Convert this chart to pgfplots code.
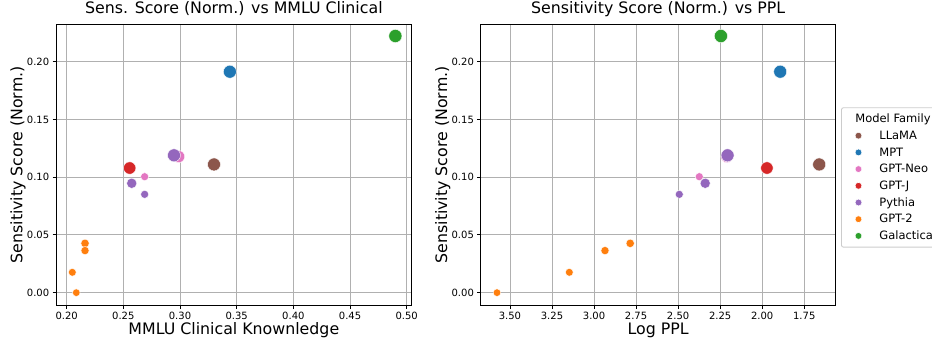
\documentclass[border=0pt]{standalone}
\usepackage{fontspec}
\setmainfont{DejaVu Sans}
\usepackage{pgfplots}
\pgfplotsset{compat=1.18}
\usepackage{pgfplotstable}

\definecolor{tabblue}{HTML}{1F77B4}
\definecolor{taborange}{HTML}{FF7F0E}
\definecolor{tabgreen}{HTML}{2CA02C}
\definecolor{tabred}{HTML}{D62728}
\definecolor{tabpurple}{HTML}{9467BD}
\definecolor{tabbrown}{HTML}{8C564B}
\definecolor{tabpink}{HTML}{E377C2}
\definecolor{gridc}{RGB}{176,176,176}
\definecolor{legc}{RGB}{204,204,204}

% columns: MMLU clinical, log PPL, normalized sensitivity, marker radius (px)
\pgfplotstableread{
mmlu ppl sens sz
0.3300 1.661 0.1110 6.5
}\llama
\pgfplotstableread{
mmlu ppl sens sz
0.3440 1.893 0.1913 6.5
}\mpt
\pgfplotstableread{
mmlu ppl sens sz
0.2988 2.210 0.1178 6.1
0.2688 2.374 0.1004 4.0
}\gptneo
\pgfplotstableread{
mmlu ppl sens sz
0.2556 1.972 0.1079 6.2
}\gptj
\pgfplotstableread{
mmlu ppl sens sz
0.2947 2.206 0.1189 6.5
0.2574 2.339 0.0947 5.1
0.2688 2.493 0.0851 4.0
}\pythia
\pgfplotstableread{
mmlu ppl sens sz
0.2162 2.785 0.0427 4.2
0.2162 2.935 0.0364 4.1
0.2050 3.147 0.0176 3.9
0.2085 3.577 0.0000 3.8
}\gpttwo
\pgfplotstableread{
mmlu ppl sens sz
0.4900 2.2455 0.2222 6.6
}\galactica

\pgfplotsset{
  fam/.style={scatter, only marks, mark=*, point meta=y,
    scatter/use mapped color={draw=white, fill=#1},
    visualization depends on={\thisrow{sz}\as\msz},
    scatter/@pre marker code/.append style={/tikz/mark size=\msz bp, /tikz/line width=0.6bp},
    forget plot},
  legmark/.style={only marks, mark=*, mark size=3.4bp, draw=white, line width=0.5bp, fill=#1},
  base/.style={
    scale only axis, height=281.7bp,
    ymin=-0.0113, ymax=0.2326,
    ytick={0,0.05,0.10,0.15,0.20},
    grid=major,
    major grid style={gridc, line width=0.8bp},
    axis line style={black, line width=0.8bp},
    tick align=outside, xtick pos=left, ytick pos=left,
    major tick length=3.3bp,
    every tick/.style={black, line width=0.8bp},
    tick label style={font=\fontsize{10bp}{12bp}\selectfont},
    /pgf/number format/assume math mode=true,
    xticklabel style={/pgf/number format/.cd, fixed, fixed zerofill, precision=2},
    yticklabel style={/pgf/number format/.cd, fixed, fixed zerofill, precision=2},
    title style={font=\fontsize{15.8bp}{18bp}\selectfont, at={(axis description cs:0.5,1.0178)}, anchor=base},
    xlabel style={font=\fontsize{15.8bp}{18bp}\selectfont, at={(axis description cs:0.5,-0.1005)}, anchor=base},
    ylabel style={font=\fontsize{15.8bp}{18bp}\selectfont, anchor=base},
  },
}

\begin{document}
\begin{tikzpicture}
\path[use as bounding box] (0,0) rectangle (932bp,339bp);

\begin{axis}[base, at={(56bp,33.3bp)}, anchor=south west, width=355.7bp,
  xmin=0.1906, xmax=0.5044,
  xtick={0.20,0.25,0.30,0.35,0.40,0.45,0.50},
  title={Sens. Score (Norm.) vs MMLU Clinical},
  xlabel={MMLU Clinical Knownledge},
  ylabel={Sensitivity Score (Norm.)},
  ylabel style={at={(axis description cs:-0.0942,0.5)}},
]
\addplot[fam=tabbrown] table[x=mmlu, y=sens] {\llama};
\addplot[fam=tabblue] table[x=mmlu, y=sens] {\mpt};
\addplot[fam=tabpink] table[x=mmlu, y=sens] {\gptneo};
\addplot[fam=tabred] table[x=mmlu, y=sens] {\gptj};
\addplot[fam=tabpurple] table[x=mmlu, y=sens] {\pythia};
\addplot[fam=taborange] table[x=mmlu, y=sens] {\gpttwo};
\addplot[fam=tabgreen] table[x=mmlu, y=sens] {\galactica};
\end{axis}

\begin{axis}[base, at={(480.7bp,33.3bp)}, anchor=south west, width=355bp,
  x dir=reverse,
  xmin=1.563, xmax=3.674,
  xtick={1.75,2.00,2.25,2.50,2.75,3.00,3.25,3.50},
  title={Sensitivity Score (Norm.) vs PPL},
  xlabel={Log PPL},
  ylabel={Sensitivity Score (Norm.)},
  ylabel style={at={(axis description cs:-0.0944,0.5)}},
  legend style={at={(1.015,0.7043)}, anchor=north west,
    draw=legc, line width=0.9bp, rounded corners=2bp, fill=white,
    font=\fontsize{11.5bp}{13bp}\selectfont,
    inner xsep=8.5bp, inner ysep=7bp,
    row sep=8.2bp, column sep=17.5bp,
    nodes={inner sep=0pt, text height=8bp, text depth=0.5bp},
  },
  legend cell align=left,
]
\addplot[fam=tabbrown] table[x=ppl, y=sens] {\llama};
\addplot[fam=tabblue] table[x=ppl, y=sens] {\mpt};
\addplot[fam=tabpink] table[x=ppl, y=sens] {\gptneo};
\addplot[fam=tabred] table[x=ppl, y=sens] {\gptj};
\addplot[fam=tabpurple] table[x=ppl, y=sens] {\pythia};
\addplot[fam=taborange] table[x=ppl, y=sens] {\gpttwo};
\addplot[fam=tabgreen] table[x=ppl, y=sens] {\galactica};
\addlegendimage{empty legend}
\addlegendentry{\hspace*{-24bp}Model Family}
\addlegendimage{legmark=tabbrown}
\addlegendentry{LLaMA}
\addlegendimage{legmark=tabblue}
\addlegendentry{MPT}
\addlegendimage{legmark=tabpink}
\addlegendentry{GPT-Neo}
\addlegendimage{legmark=tabred}
\addlegendentry{GPT-J}
\addlegendimage{legmark=tabpurple}
\addlegendentry{Pythia}
\addlegendimage{legmark=taborange}
\addlegendentry{GPT-2}
\addlegendimage{legmark=tabgreen}
\addlegendentry{Galactica}
\end{axis}
\end{tikzpicture}
\end{document}
